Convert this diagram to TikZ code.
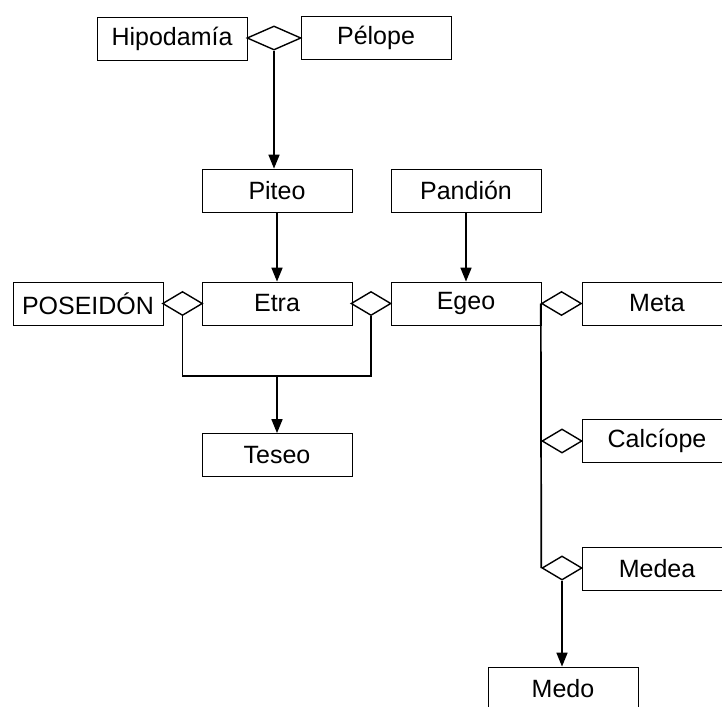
\documentclass[tikz,border=0pt]{standalone}
\usepackage{fontspec}
\setmainfont{Liberation Sans}
\usetikzlibrary{shapes.geometric,arrows.meta}
\begin{document}
\begin{tikzpicture}[x=1pt,y=-1pt,
  person/.style={draw, line width=0.8pt, minimum width=150pt, minimum height=43pt,
    inner sep=0pt, font=\fontsize{25}{28}\selectfont},
  union/.style={draw, diamond, line width=1.4pt, minimum width=40pt,
    minimum height=24pt, inner sep=0pt, fill=white},
  link/.style={line width=1.7pt},
  child/.style={link, -{Triangle[length=14pt,width=11pt]}}]
\useasboundingbox (0,0) rectangle (722,706);
\clip (0,0) rectangle (722,706);

% people
\node[person] (hipodamia) at (172,39)    {Hipodamía};
\node[person] (pelope)    at (376,38)    {Pélope};
\node[person] (piteo)     at (277,190.5) {Piteo};
\node[person] (pandion)   at (466,190.5) {Pandión};
\node[person] (poseidon)  at (88,303.5)  {POSEIDÓN};
\node[person] (etra)      at (277,303.5) {Etra};
\node[person] (egeo)      at (466,303.5) {Egeo};
\node[person] (meta)      at (657,303.5) {Meta};
\node[person] (teseo)     at (277,455)   {Teseo};
\node[person] (calciope)  at (657,441)   {Calcíope};
\node[person] (medea)     at (657,568.5) {Medea};
\node[person] (medo)      at (563,688.5) {Medo};

% unions
\node[union, minimum width=54pt] (uhp) at (274,38) {};
\node[union] (upe) at (182.5,303.5) {};
\node[union] (uee) at (371,303.5)   {};
\node[union] (uem) at (561.5,303.5) {};
\node[union] (uc)  at (562,441)     {};
\node[union] (um)  at (562,568)     {};

% descent
\draw[child] (uhp.south) -- (uhp.south |- piteo.north);
\draw[child] (piteo.south) -- (etra.north);
\draw[child] (pandion.south) -- (egeo.north);

\coordinate (jl) at (182.5,376);
\coordinate (jr) at (371,376);
\coordinate (jm) at (277,376);
\draw[link] (upe.south) -- (jl) -- (jr) -- (uee.south);
\draw[child] (jm) -- (teseo.north);

\draw[link] (uem.west) -- (um.west);
\draw[child] (um.south) -- (um.south |- medo.north);
\end{tikzpicture}
\end{document}
